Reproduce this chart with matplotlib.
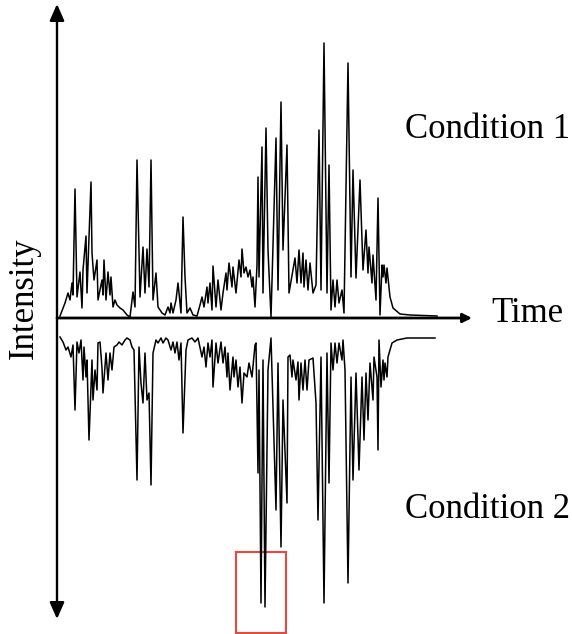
import matplotlib.pyplot as plt
from matplotlib.patches import Rectangle

# condition 1 trace (time, intensity)
time_1 = [3, 8, 11, 13, 15, 16, 18, 20, 23, 25, 26, 29, 30, 34, 35, 37, 40, 41, 45, 46,
          47, 49, 51, 53, 54, 56, 58, 60, 63, 66, 70, 73, 76, 78, 80, 83, 86, 88, 90, 92,
          94, 96, 99, 101, 105, 108, 111, 113, 114, 116, 119, 121, 124, 126, 128, 130, 133, 136, 140, 143,
          145, 147, 150, 151, 153, 155, 156, 159, 161, 164, 166, 169, 170, 172, 175, 176, 179, 182, 184, 185,
          187, 189, 191, 193, 195, 196, 198, 200, 201, 202, 205, 206, 209, 211, 214, 219, 221, 224, 226, 230,
          232, 236, 238, 240, 242, 244, 246, 247, 249, 251, 253, 256, 259, 262, 264, 267, 270, 272, 274, 276,
          278, 280, 282, 285, 287, 291, 294, 296, 299, 303, 306, 309, 311, 312, 315, 316, 319, 321, 323, 325,
          326, 327, 329, 330, 333, 336, 343, 353, 380]
int_1 = [2, 15, 25, 18, 35, 23, 129, 21, 46, 10, 48, 82, 25, 136, 65, 38, 58, 18, 38, 23,
         58, 18, 46, 23, 41, 11, 18, 13, 10, 8, 3, 1, 26, 11, 158, 21, 71, 25, 69, 31,
         158, 18, 45, 11, 5, 3, 11, 5, 15, 5, 18, 35, 5, 101, 41, 5, 10, 3, 2, 13,
         21, 11, 31, 15, 35, 8, 52, 11, 38, 8, 25, 45, 28, 55, 31, 51, 25, 58, 41, 69,
         45, 51, 41, 48, 31, 41, 11, 53, 141, 41, 171, 25, 190, 68, 1, 180, 28, 216, 68, 173,
         25, 48, 60, 35, 68, 35, 65, 31, 58, 28, 55, 25, 33, 188, 28, 275, 25, 153, 8, 38,
         11, 38, 15, 28, 5, 255, 41, 148, 40, 138, 48, 88, 45, 71, 35, 63, 18, 120, 3, 53,
         41, 53, 35, 50, 21, 10, 4, 3, 2]

# condition 2 trace (time, intensity drawn downward)
time_2 = [3, 6, 9, 11, 14, 16, 18, 20, 22, 24, 26, 27, 29, 30, 32, 35, 36, 38, 40, 41,
          43, 45, 46, 49, 51, 53, 55, 57, 60, 62, 65, 68, 70, 73, 75, 77, 80, 82, 84, 86,
          88, 90, 92, 94, 96, 99, 101, 104, 106, 109, 111, 114, 116, 118, 120, 122, 124, 126, 129, 131,
          135, 138, 141, 145, 147, 149, 151, 153, 155, 156, 159, 161, 164, 166, 168, 170, 171, 173, 176, 177,
          179, 181, 183, 185, 187, 190, 192, 195, 198, 199, 201, 202, 204, 206, 208, 211, 214, 219, 221, 224,
          226, 230, 231, 233, 235, 236, 239, 241, 242, 244, 246, 248, 250, 252, 256, 259, 261, 264, 267, 270,
          272, 274, 276, 278, 280, 282, 285, 286, 288, 291, 294, 296, 299, 302, 305, 307, 309, 311, 313, 316,
          317, 320, 321, 322, 324, 326, 327, 328, 330, 331, 335, 340, 350, 378]
int_2 = [19, 24, 32, 29, 39, 27, 92, 24, 35, 22, 62, 29, 59, 42, 122, 42, 82, 52, 72, 25,
         24, 50, 75, 35, 62, 35, 52, 29, 27, 24, 27, 22, 20, 22, 29, 32, 162, 29, 65, 85,
         35, 82, 75, 167, 35, 22, 25, 20, 25, 20, 22, 32, 24, 35, 24, 42, 25, 115, 32, 22,
         20, 24, 20, 39, 29, 49, 25, 39, 22, 69, 25, 45, 24, 45, 29, 59, 35, 72, 39, 59,
         42, 69, 49, 85, 55, 59, 45, 59, 27, 25, 155, 52, 285, 42, 289, 52, 20, 192, 45, 229,
         82, 185, 39, 37, 59, 42, 62, 44, 82, 45, 72, 42, 72, 42, 40, 85, 202, 39, 285, 35,
         165, 25, 52, 25, 45, 25, 42, 22, 52, 265, 59, 162, 55, 152, 59, 122, 55, 102, 45, 82,
         39, 59, 132, 22, 69, 42, 62, 45, 59, 39, 25, 22, 20, 20]

# highlighted window (time range, intensity range)
box_time = (179, 229)
box_int = (-315, -234)

serif = 'Liberation Serif'

fig = plt.figure(figsize=(5.72, 6.34), dpi=100)
ax = fig.add_axes([0, 0, 1, 1])
ax.set_xlim(-57, 515)
ax.set_ylim(-316, 318)
ax.axis('off')

ax.plot(time_1, int_1, color='black', lw=1.1, solid_joinstyle='round')
ax.plot(time_2, [-v for v in int_2], color='black', lw=1.1, solid_joinstyle='round')

# axes arrows
ax.annotate('', xy=(0, 314), xytext=(0, -301),
            arrowprops=dict(arrowstyle='<|-|>,head_length=0.5,head_width=0.22',
                            color='black', lw=1.7, mutation_scale=20,
                            shrinkA=0, shrinkB=0))
ax.annotate('', xy=(415, 0), xytext=(0, 0),
            arrowprops=dict(arrowstyle='-|>,head_length=0.6,head_width=0.3',
                            color='black', lw=2.0, mutation_scale=9,
                            shrinkA=0, shrinkB=0))

ax.add_patch(Rectangle((box_time[0], box_int[0]), box_time[1] - box_time[0],
                       box_int[1] - box_int[0], fill=False,
                       edgecolor='#e8493e', lw=1.5, clip_on=False))

ax.text(348, 188, 'Condition 1', fontsize=25, family=serif, va='center', ha='left')
ax.text(348, -191, 'Condition 2', fontsize=25, family=serif, va='center', ha='left')
ax.text(434, 4, 'Time', fontsize=25, family=serif, va='center', ha='left')
ax.text(-33, 20, 'Intensity', fontsize=25, family=serif, va='center', ha='center',
        rotation=90)

fig.savefig('out.png', dpi=100)
